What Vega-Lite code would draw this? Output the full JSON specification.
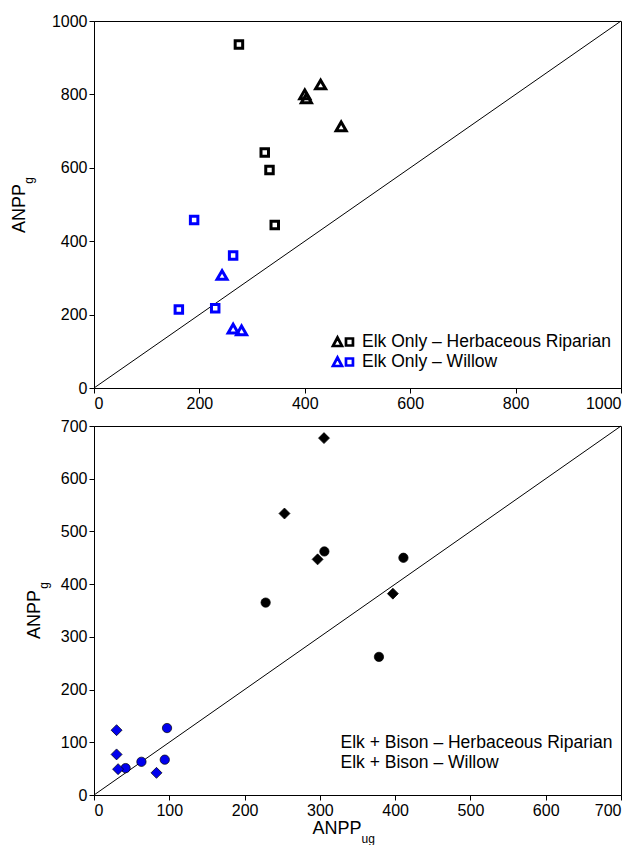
{
  "$schema": "https://vega.github.io/schema/vega-lite/v6.json",
  "background": "white",
  "padding": {"left": 9, "top": 12, "right": 4, "bottom": 0},
  "spacing": 5,
  "config": {
    "font": "Liberation Sans",
    "view": {"stroke": "black", "strokeWidth": 1},
    "axis": {
      "grid": false,
      "domainColor": "black",
      "tickColor": "black",
      "tickSize": 5,
      "labelFontSize": 16,
      "labelColor": "black",
      "labelPadding": 2,
      "format": "d",
      "titleFontWeight": "normal",
      "titleColor": "black",
      "titleFont": "Liberation Sans"
    },
    "legend": {
      "labelFont": "Liberation Sans",
      "labelColor": "black",
      "labelFontSize": 17.5,
      "labelLimit": 0
    }
  },
  "datasets": {
    "line1000": [{"x": 0, "y": 0}, {"x": 1000, "y": 1000}],
    "line700": [{"x": 0, "y": 0}, {"x": 700, "y": 700}],
    "topTri": [
      {"x": 430, "y": 827, "group": "Elk Only – Herbaceous Riparian"},
      {"x": 400, "y": 800, "group": "Elk Only – Herbaceous Riparian"},
      {"x": 403, "y": 789, "group": "Elk Only – Herbaceous Riparian"},
      {"x": 469, "y": 713, "group": "Elk Only – Herbaceous Riparian"},
      {"x": 243, "y": 308, "group": "Elk Only – Willow"},
      {"x": 264, "y": 162, "group": "Elk Only – Willow"},
      {"x": 280, "y": 157, "group": "Elk Only – Willow"}
    ],
    "topSq": [
      {"x": 275, "y": 936, "group": "Elk Only – Herbaceous Riparian"},
      {"x": 324, "y": 642, "group": "Elk Only – Herbaceous Riparian"},
      {"x": 333, "y": 594, "group": "Elk Only – Herbaceous Riparian"},
      {"x": 343, "y": 444, "group": "Elk Only – Herbaceous Riparian"},
      {"x": 190, "y": 458, "group": "Elk Only – Willow"},
      {"x": 264, "y": 361, "group": "Elk Only – Willow"},
      {"x": 161, "y": 214, "group": "Elk Only – Willow"},
      {"x": 230, "y": 217, "group": "Elk Only – Willow"}
    ],
    "botDia": [
      {"x": 305.5, "y": 677, "group": "Elk + Bison – Herbaceous Riparian"},
      {"x": 253, "y": 534, "group": "Elk + Bison – Herbaceous Riparian"},
      {"x": 297, "y": 447, "group": "Elk + Bison – Herbaceous Riparian"},
      {"x": 397, "y": 382, "group": "Elk + Bison – Herbaceous Riparian"},
      {"x": 30, "y": 123, "group": "Elk + Bison – Willow"},
      {"x": 30, "y": 77, "group": "Elk + Bison – Willow"},
      {"x": 32, "y": 49, "group": "Elk + Bison – Willow"},
      {"x": 83, "y": 42, "group": "Elk + Bison – Willow"}
    ],
    "botCirc": [
      {"x": 306, "y": 462, "group": "Elk + Bison – Herbaceous Riparian"},
      {"x": 411, "y": 450, "group": "Elk + Bison – Herbaceous Riparian"},
      {"x": 228, "y": 365, "group": "Elk + Bison – Herbaceous Riparian"},
      {"x": 378.5, "y": 262, "group": "Elk + Bison – Herbaceous Riparian"},
      {"x": 97, "y": 127, "group": "Elk + Bison – Willow"},
      {"x": 94, "y": 67, "group": "Elk + Bison – Willow"},
      {"x": 63, "y": 63, "group": "Elk + Bison – Willow"},
      {"x": 42, "y": 51, "group": "Elk + Bison – Willow"}
    ]
  },
  "vconcat": [
    {
      "width": 527,
      "height": 367,
      "layer": [
        {
          "data": {"name": "line1000"},
          "mark": {"type": "line", "color": "black", "strokeWidth": 1},
          "encoding": {
            "x": {"field": "x", "type": "quantitative", "scale": {"domain": [0, 1000], "nice": false},
                  "axis": {"title": null, "values": [0, 200, 400, 600, 800, 1000]}},
            "y": {"field": "y", "type": "quantitative", "scale": {"domain": [0, 1000], "nice": false},
                  "axis": {"title": "ANPP", "values": [0, 200, 400, 600, 800, 1000], "titleFontSize": 18,
                           "titleX": -70, "titleY": 187, "titleAlign": "center", "titleBaseline": "alphabetic", "titleAngle": -90}}
          }
        },
        {
          "data": {"name": "topTri"},
          "mark": {"type": "point", "shape": "triangle-up", "filled": false, "strokeWidth": 3, "size": 100, "opacity": 1},
          "encoding": {
            "x": {"field": "x", "type": "quantitative", "axis": {"title": null}},
            "y": {"field": "y", "type": "quantitative",
                  "axis": {"title": "g", "orient": "left", "labels": false, "ticks": false, "domain": false, "titleFontSize": 12,
                           "titleX": -62, "titleY": 159, "titleAlign": "center", "titleBaseline": "alphabetic", "titleAngle": -90}},
            "stroke": {"field": "group", "type": "nominal",
                       "scale": {"domain": ["Elk Only – Herbaceous Riparian", "Elk Only – Willow"], "range": ["black", "#0000ff"]},
                       "legend": {"title": null, "orient": "none", "legendX": 238.5, "legendY": 311, "padding": 0,
                                  "symbolType": "M-1.12,0.47L-0.59,-0.53L-0.06,0.47Z M0.41,-0.41H1.23V0.41H0.41Z",
                                  "symbolSize": 289, "symbolStrokeWidth": 2.7, "symbolFillColor": "transparent",
                                  "labelOffset": 9.5, "rowPadding": -2}}
          }
        },
        {
          "data": {"name": "topSq"},
          "mark": {"type": "point", "shape": "square", "filled": false, "strokeWidth": 3, "size": 56, "opacity": 1},
          "encoding": {
            "x": {"field": "x", "type": "quantitative", "axis": {"title": null}},
            "y": {"field": "y", "type": "quantitative", "axis": null},
            "stroke": {"field": "group", "type": "nominal"}
          }
        }
      ],
      "resolve": {"axis": {"y": "independent"}}
    },
    {
      "width": 527,
      "height": 369,
      "layer": [
        {
          "data": {"name": "line700"},
          "mark": {"type": "line", "color": "black", "strokeWidth": 1},
          "encoding": {
            "x": {"field": "x", "type": "quantitative", "scale": {"domain": [0, 700], "nice": false},
                  "axis": {"title": "ANPP", "values": [0, 100, 200, 300, 400, 500, 600, 700], "titleFontSize": 18,
                           "titleX": 218, "titleY": 38, "titleAlign": "left", "titleBaseline": "alphabetic"}},
            "y": {"field": "y", "type": "quantitative", "scale": {"domain": [0, 700], "nice": false},
                  "axis": {"title": "ANPP", "values": [0, 100, 200, 300, 400, 500, 600, 700], "titleFontSize": 18,
                           "titleX": -55, "titleY": 188, "titleAlign": "center", "titleBaseline": "alphabetic", "titleAngle": -90}}
          }
        },
        {
          "data": {"name": "botCirc"},
          "mark": {"type": "point", "shape": "circle", "filled": true, "stroke": "black", "strokeWidth": 0.7, "size": 87, "opacity": 1},
          "encoding": {
            "x": {"field": "x", "type": "quantitative",
                  "axis": {"title": "ug", "orient": "bottom", "labels": false, "ticks": false, "domain": false, "titleFontSize": 12,
                           "titleX": 267, "titleY": 47, "titleAlign": "left", "titleBaseline": "alphabetic"}},
            "y": {"field": "y", "type": "quantitative",
                  "axis": {"title": "g", "orient": "left", "labels": false, "ticks": false, "domain": false, "titleFontSize": 12,
                           "titleX": -47, "titleY": 159, "titleAlign": "center", "titleBaseline": "alphabetic", "titleAngle": -90}},
            "fill": {"field": "group", "type": "nominal",
                     "scale": {"domain": ["Elk + Bison – Herbaceous Riparian", "Elk + Bison – Willow"], "range": ["black", "#0000ee"]},
                     "legend": {"title": null, "orient": "none", "legendX": 229, "legendY": 308, "padding": 0,
                                "symbolSize": 0, "symbolOpacity": 0, "symbolStrokeWidth": 0, "labelOffset": 0, "rowPadding": 1}}
          }
        },
        {
          "data": {"name": "botDia"},
          "mark": {"type": "point", "shape": "diamond", "filled": true, "stroke": "black", "strokeWidth": 0.7, "size": 121, "opacity": 1},
          "encoding": {
            "x": {"field": "x", "type": "quantitative", "axis": null},
            "y": {"field": "y", "type": "quantitative", "axis": null},
            "fill": {"field": "group", "type": "nominal"}
          }
        }
      ],
      "resolve": {"axis": {"x": "independent", "y": "independent"}}
    }
  ],
  "resolve": {"scale": {"stroke": "independent", "fill": "independent"}}
}
